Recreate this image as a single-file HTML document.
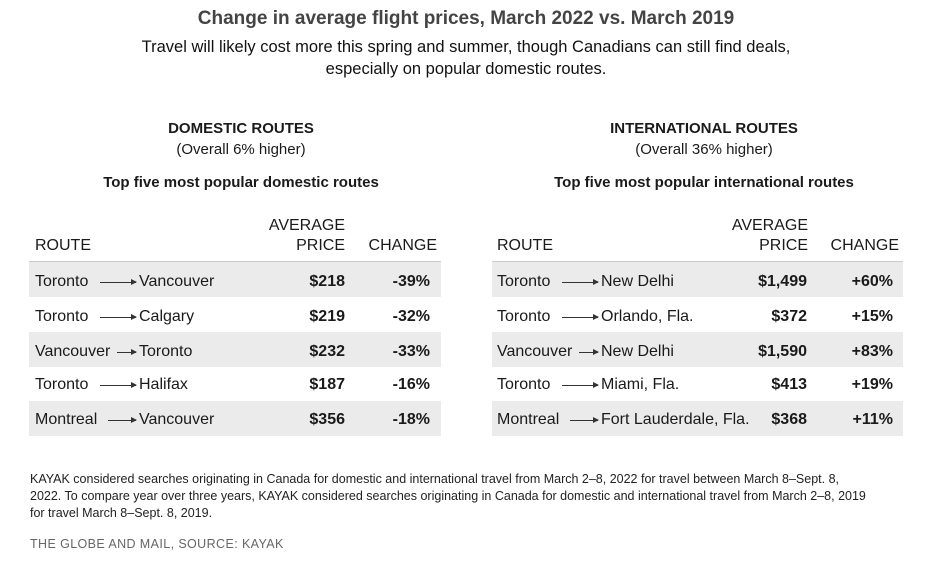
<!DOCTYPE html>
<html><head><meta charset="utf-8"><style>
body{margin:0;width:932px;height:560px;background:#fff;position:relative;font-family:"Liberation Sans",sans-serif;color:#1a1a1a;overflow:hidden}
.a{position:absolute;white-space:nowrap}
.c{text-align:center}
.r{text-align:right}
.row{position:absolute;height:35px}
.g{background:#ebebeb}
.t{font-size:16px;line-height:20px}
.b{font-weight:bold}
.arr{position:absolute;height:1.3px;background:#333}
.arr:after{content:"";position:absolute;right:-1px;top:-3px;border-left:6px solid #333;border-top:3.6px solid transparent;border-bottom:3.6px solid transparent}
.fn{font-family:"Liberation Sans Narrow","Liberation Sans",sans-serif;font-size:12.5px;color:#222}
.sh{position:absolute;left:0;top:2px;width:932px;height:560px}
</style></head><body>
<div class="a c b" style="left:0;width:932px;top:8px;font-size:19px;color:#444">Change in average flight prices, March 2022 vs. March 2019</div>
<div class="a c" style="left:0;width:932px;top:36px;font-size:16.5px;line-height:22px;color:#111">Travel will likely cost more this spring and summer, though Canadians can still find deals,<br>especially on popular domestic routes.</div>

<div class="a c t b" style="left:41px;width:400px;top:119px;font-size:15px">DOMESTIC ROUTES</div>
<div class="a c t" style="left:41px;width:400px;top:140px;font-size:15px">(Overall 6% higher)</div>
<div class="a c t b" style="left:41px;width:400px;top:173px;font-size:15px">Top five most popular domestic routes</div>
<div class="a c t b" style="left:504px;width:400px;top:119px;font-size:15px">INTERNATIONAL ROUTES</div>
<div class="a c t" style="left:504px;width:400px;top:140px;font-size:15px">(Overall 36% higher)</div>
<div class="a c t b" style="left:504px;width:400px;top:173px;font-size:15px">Top five most popular international routes</div>

<div class="a" style="left:29px;width:412px;top:261px;height:1.5px;background:#ccc"></div>
<div class="row g" style="left:29px;width:412px;top:262px"></div>
<div class="row g" style="left:29px;width:412px;top:332px"></div>
<div class="row g" style="left:29px;width:412px;top:401px"></div>
<div class="a" style="left:492px;width:411px;top:261px;height:1.5px;background:#ccc"></div>
<div class="row g" style="left:492px;width:411px;top:262px"></div>
<div class="row g" style="left:492px;width:411px;top:332px"></div>
<div class="row g" style="left:492px;width:411px;top:401px"></div>

<div class="sh">
<div class="a t" style="left:35px;top:234px">ROUTE</div>
<div class="a t r" style="left:245px;width:100px;top:214px">AVERAGE<br>PRICE</div>
<div class="a t r" style="left:337px;width:100px;top:234px">CHANGE</div>

<div class="a t" style="left:35px;top:270px">Toronto</div><div class="arr" style="left:100px;width:36px;top:280px"></div><div class="a t" style="left:139px;top:270px">Vancouver</div>
<div class="a t" style="left:35px;top:305px">Toronto</div><div class="arr" style="left:100px;width:36px;top:315px"></div><div class="a t" style="left:139px;top:305px">Calgary</div>
<div class="a t" style="left:35px;top:340px">Vancouver</div><div class="arr" style="left:117px;width:19px;top:350px"></div><div class="a t" style="left:139px;top:340px">Toronto</div>
<div class="a t" style="left:35px;top:373px">Toronto</div><div class="arr" style="left:100px;width:36px;top:383px"></div><div class="a t" style="left:139px;top:373px">Halifax</div>
<div class="a t" style="left:35px;top:408px">Montreal</div><div class="arr" style="left:108px;width:28px;top:418px"></div><div class="a t" style="left:139px;top:408px">Vancouver</div>
<div class="a t b r" style="left:245px;width:100px;top:270px">$218</div><div class="a t b r" style="left:330px;width:100px;top:270px">-39%</div>
<div class="a t b r" style="left:245px;width:100px;top:305px">$219</div><div class="a t b r" style="left:330px;width:100px;top:305px">-32%</div>
<div class="a t b r" style="left:245px;width:100px;top:340px">$232</div><div class="a t b r" style="left:330px;width:100px;top:340px">-33%</div>
<div class="a t b r" style="left:245px;width:100px;top:373px">$187</div><div class="a t b r" style="left:330px;width:100px;top:373px">-16%</div>
<div class="a t b r" style="left:245px;width:100px;top:408px">$356</div><div class="a t b r" style="left:330px;width:100px;top:408px">-18%</div>

<div class="a t" style="left:497px;top:234px">ROUTE</div>
<div class="a t r" style="left:708px;width:100px;top:214px">AVERAGE<br>PRICE</div>
<div class="a t r" style="left:799px;width:100px;top:234px">CHANGE</div>

<div class="a t" style="left:497px;top:270px">Toronto</div><div class="arr" style="left:562px;width:36px;top:280px"></div><div class="a t" style="left:601px;top:270px">New Delhi</div>
<div class="a t" style="left:497px;top:305px">Toronto</div><div class="arr" style="left:562px;width:36px;top:315px"></div><div class="a t" style="left:601px;top:305px">Orlando, Fla.</div>
<div class="a t" style="left:497px;top:340px">Vancouver</div><div class="arr" style="left:579px;width:19px;top:350px"></div><div class="a t" style="left:601px;top:340px">New Delhi</div>
<div class="a t" style="left:497px;top:373px">Toronto</div><div class="arr" style="left:562px;width:36px;top:383px"></div><div class="a t" style="left:601px;top:373px">Miami, Fla.</div>
<div class="a t" style="left:497px;top:408px">Montreal</div><div class="arr" style="left:570px;width:28px;top:418px"></div><div class="a t" style="left:601px;top:408px">Fort Lauderdale, Fla.</div>
<div class="a t b r" style="left:707px;width:100px;top:270px">$1,499</div><div class="a t b r" style="left:793px;width:100px;top:270px">+60%</div>
<div class="a t b r" style="left:707px;width:100px;top:305px">$372</div><div class="a t b r" style="left:793px;width:100px;top:305px">+15%</div>
<div class="a t b r" style="left:707px;width:100px;top:340px">$1,590</div><div class="a t b r" style="left:793px;width:100px;top:340px">+83%</div>
<div class="a t b r" style="left:707px;width:100px;top:373px">$413</div><div class="a t b r" style="left:793px;width:100px;top:373px">+19%</div>
<div class="a t b r" style="left:707px;width:100px;top:408px">$368</div><div class="a t b r" style="left:793px;width:100px;top:408px">+11%</div>
</div>

<div class="a fn" style="left:30px;top:471px;line-height:17px">KAYAK considered searches originating in Canada for domestic and international travel from March 2–8, 2022 for travel between March 8–Sept. 8,<br>2022. To compare year over three years, KAYAK considered searches originating in Canada for domestic and international travel from March 2–8, 2019<br>for travel March 8–Sept. 8, 2019.</div>
<div class="a fn" style="left:30px;top:537px;color:#666;letter-spacing:0.4px">THE GLOBE AND MAIL, SOURCE: KAYAK</div>
</body></html>
